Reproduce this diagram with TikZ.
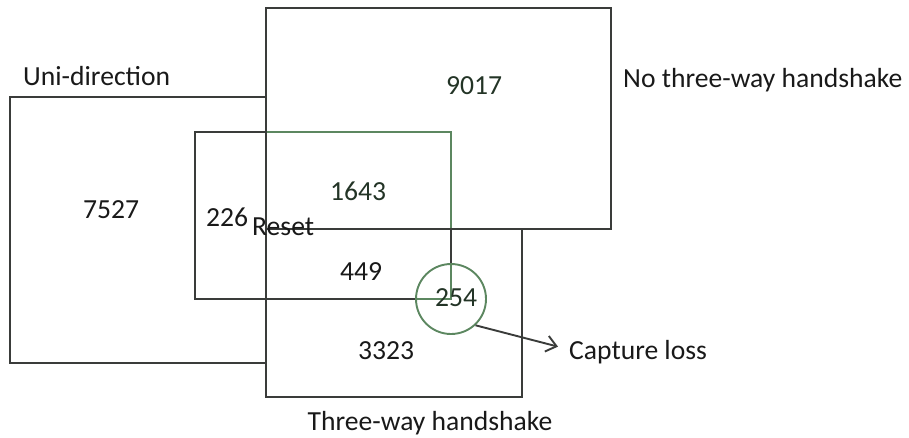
\documentclass[tikz,border=0pt]{standalone}
\usepackage{fontspec}
\setmainfont{Carlito}
\usetikzlibrary{arrows.meta}
\definecolor{edge}{RGB}{58,60,58}
\definecolor{gedge}{RGB}{92,135,96}
\definecolor{ink}{RGB}{25,25,25}
\definecolor{gink}{RGB}{35,52,38}
\begin{document}
\begin{tikzpicture}[x=1pt,y=-1pt,
  line join=miter,
  boxline/.style={draw=edge,line width=2.6pt},
  greenline/.style={draw=gedge,line width=2.6pt},
  lbl/.style={font=\fontsize{27.6}{32}\selectfont,text=ink,inner sep=0pt},
  glbl/.style={lbl,text=gink}]
\useasboundingbox (0,0) rectangle (909,437);
% Uni-direction set
\coordinate (u1) at (266,97);
\coordinate (u2) at (10,97);
\coordinate (u3) at (10,363);
\coordinate (u4) at (266,363);
\draw[boxline] (u1) -- (u2) -- (u3) -- (u4);
% Reset set
\coordinate (r1) at (195,132);
\coordinate (r2) at (451,132);
\coordinate (r3) at (451,299);
\coordinate (r4) at (195,299);
\coordinate (rg) at (266,132);
\coordinate (rb) at (451,229);
\draw[boxline] (r1) rectangle (r3);
\draw[greenline] (rg) -- (r2) -- (rb);
% Three-way handshake set
\coordinate (t1) at (266,229);
\coordinate (t2) at (522,397);
\draw[boxline] (t1) rectangle (t2);
% No three-way handshake set
\coordinate (n1) at (266,8);
\coordinate (n2) at (611,229);
\draw[boxline] (n1) rectangle (n2);
% capture loss circle
\node[circle,draw=gedge,line width=1.9pt,minimum size=70pt,inner sep=0pt,fill=white] (loss) at (451,299) {};
\coordinate (cl1) at (416.5,299);
\coordinate (cl2) at (451,264.5);
\draw[greenline,line width=2.2pt] (cl1) -- (r3) -- (cl2);
% labels
\node[lbl,anchor=base west] (uni) at (23,85) {Uni-direction};
\node[lbl,anchor=base west] (nth) at (623,87) {No three-way handshake};
\node[lbl,anchor=base] (thw) at (430,430) {Three-way handshake};
\node[lbl,anchor=base west] (reset) at (252,235) {Reset};
\node[lbl,anchor=base west] (cap) at (569,359) {Capture loss};
\node[glbl,anchor=base] (v9017) at (474,94) {9017};
\node[lbl,anchor=base] (v7527) at (111,218) {7527};
\node[lbl,anchor=base] (v226) at (227,226) {226};
\node[glbl,anchor=base] (v1643) at (358,200) {1643};
\node[lbl,anchor=base] (v449) at (361,280) {449};
\node[lbl,anchor=base] (v3323) at (386,359) {3323};
\node[glbl,anchor=base] (v254) at (456,306) {254};
\draw[draw=edge,line width=1.9pt,-{Straight Barb[length=10pt,width=16pt,line width=1.9pt]}] (loss.-47) -- ([xshift=-11pt,yshift=5pt]cap.west);
\end{tikzpicture}
\end{document}
